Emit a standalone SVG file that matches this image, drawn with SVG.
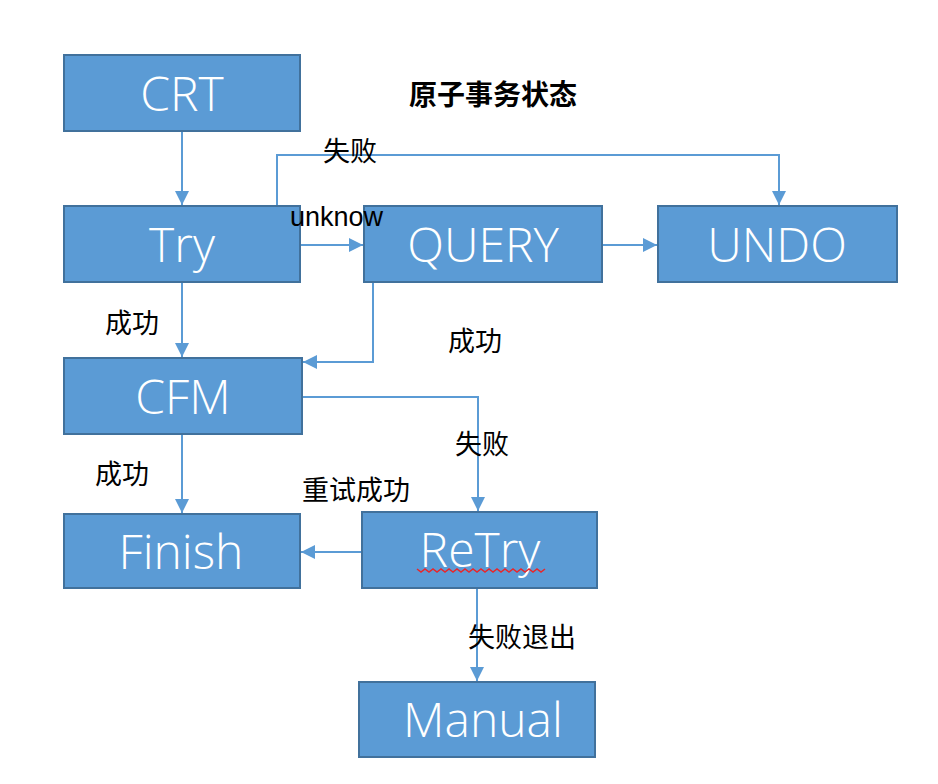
<svg xmlns="http://www.w3.org/2000/svg" width="938" height="784" viewBox="0 0 938 784">
<style>
.box{fill:#5B9BD5;stroke:#41719C;stroke-width:2}
.bt{fill:#ffffff;font-family:"Open Sans","Noto Sans","Liberation Sans",sans-serif;font-weight:300;font-size:48px;text-anchor:middle}
.ln{fill:none;stroke:#5B9BD5;stroke-width:2}
.lb{fill:#000000;font-family:"Liberation Sans","Noto Sans CJK SC",sans-serif;font-size:27px}
.title{fill:#000000;font-family:"Liberation Sans","Noto Sans CJK SC",sans-serif;font-size:28px;font-weight:bold}
</style>
<defs>
<marker id="arr" markerUnits="userSpaceOnUse" markerWidth="16" markerHeight="14" refX="14" refY="7" orient="auto">
<path d="M0,0 L14,7 L0,14 Z" fill="#5B9BD5"/>
</marker>
</defs>
<rect width="938" height="784" fill="#ffffff"/>
<g id="connectors">
<path class="ln" d="M182,131 V205" marker-end="url(#arr)"/>
<path class="ln" d="M300,245 H363" marker-end="url(#arr)"/>
<path class="ln" d="M277,206 V155 H779 V205" marker-end="url(#arr)"/>
<path class="ln" d="M602,245 H657" marker-end="url(#arr)"/>
<path class="ln" d="M182,283 V357" marker-end="url(#arr)"/>
<path class="ln" d="M373,283 V362 H303" marker-end="url(#arr)"/>
<path class="ln" d="M302,397 H478 V511" marker-end="url(#arr)"/>
<path class="ln" d="M182,435 V513" marker-end="url(#arr)"/>
<path class="ln" d="M362,552 H301" marker-end="url(#arr)"/>
<path class="ln" d="M477,589 V681" marker-end="url(#arr)"/>
</g>
<g id="CRT"><rect class="box" x="64" y="55" width="236" height="76"/><text class="bt" x="182" y="111">CRT</text></g>
<g id="Try"><rect class="box" x="64" y="206" width="236" height="76"/><text class="bt" x="182" y="262">Try</text></g>
<g id="QUERY"><rect class="box" x="364" y="206" width="238" height="76"/><text class="bt" x="483" y="262">QUERY</text></g>
<g id="UNDO"><rect class="box" x="658" y="206" width="239" height="76"/><text class="bt" x="777" y="262">UNDO</text></g>
<g id="CFM"><rect class="box" x="64" y="358" width="238" height="76"/><text class="bt" x="183" y="414">CFM</text></g>
<g id="Finish"><rect class="box" x="64" y="514" width="236" height="74"/><text class="bt" x="181" y="569">Finish</text></g>
<g id="ReTry"><rect class="box" x="362" y="512" width="235" height="76"/><text class="bt" x="480" y="567">ReTry</text>
<path d="M417,569 l4,3 l4,-3 l4,3 l4,-3 l4,3 l4,-3 l4,3 l4,-3 l4,3 l4,-3 l4,3 l4,-3 l4,3 l4,-3 l4,3 l4,-3 l4,3 l4,-3 l4,3 l4,-3 l4,3 l4,-3 l4,3 l4,-3 l4,3 l4,-3 l4,3 l4,-3 l4,3 l4,-3 l4,3 l4,-3" fill="none" stroke="#E8262B" stroke-width="1.5"/></g>
<g id="Manual"><rect class="box" x="359" y="682" width="236" height="75"/><text class="bt" x="483" y="737">Manual</text></g>
<g id="labels">
<text class="title" x="409" y="105">原子事务状态</text>
<text class="lb" x="323" y="161">失败</text>
<text class="lb" x="290" y="226">unknow</text>
<text class="lb" x="105" y="333">成功</text>
<text class="lb" x="448" y="351">成功</text>
<text class="lb" x="455" y="454">失败</text>
<text class="lb" x="95" y="484">成功</text>
<text class="lb" x="302" y="500">重试成功</text>
<text class="lb" x="468" y="647">失败退出</text>
</g>
</svg>
